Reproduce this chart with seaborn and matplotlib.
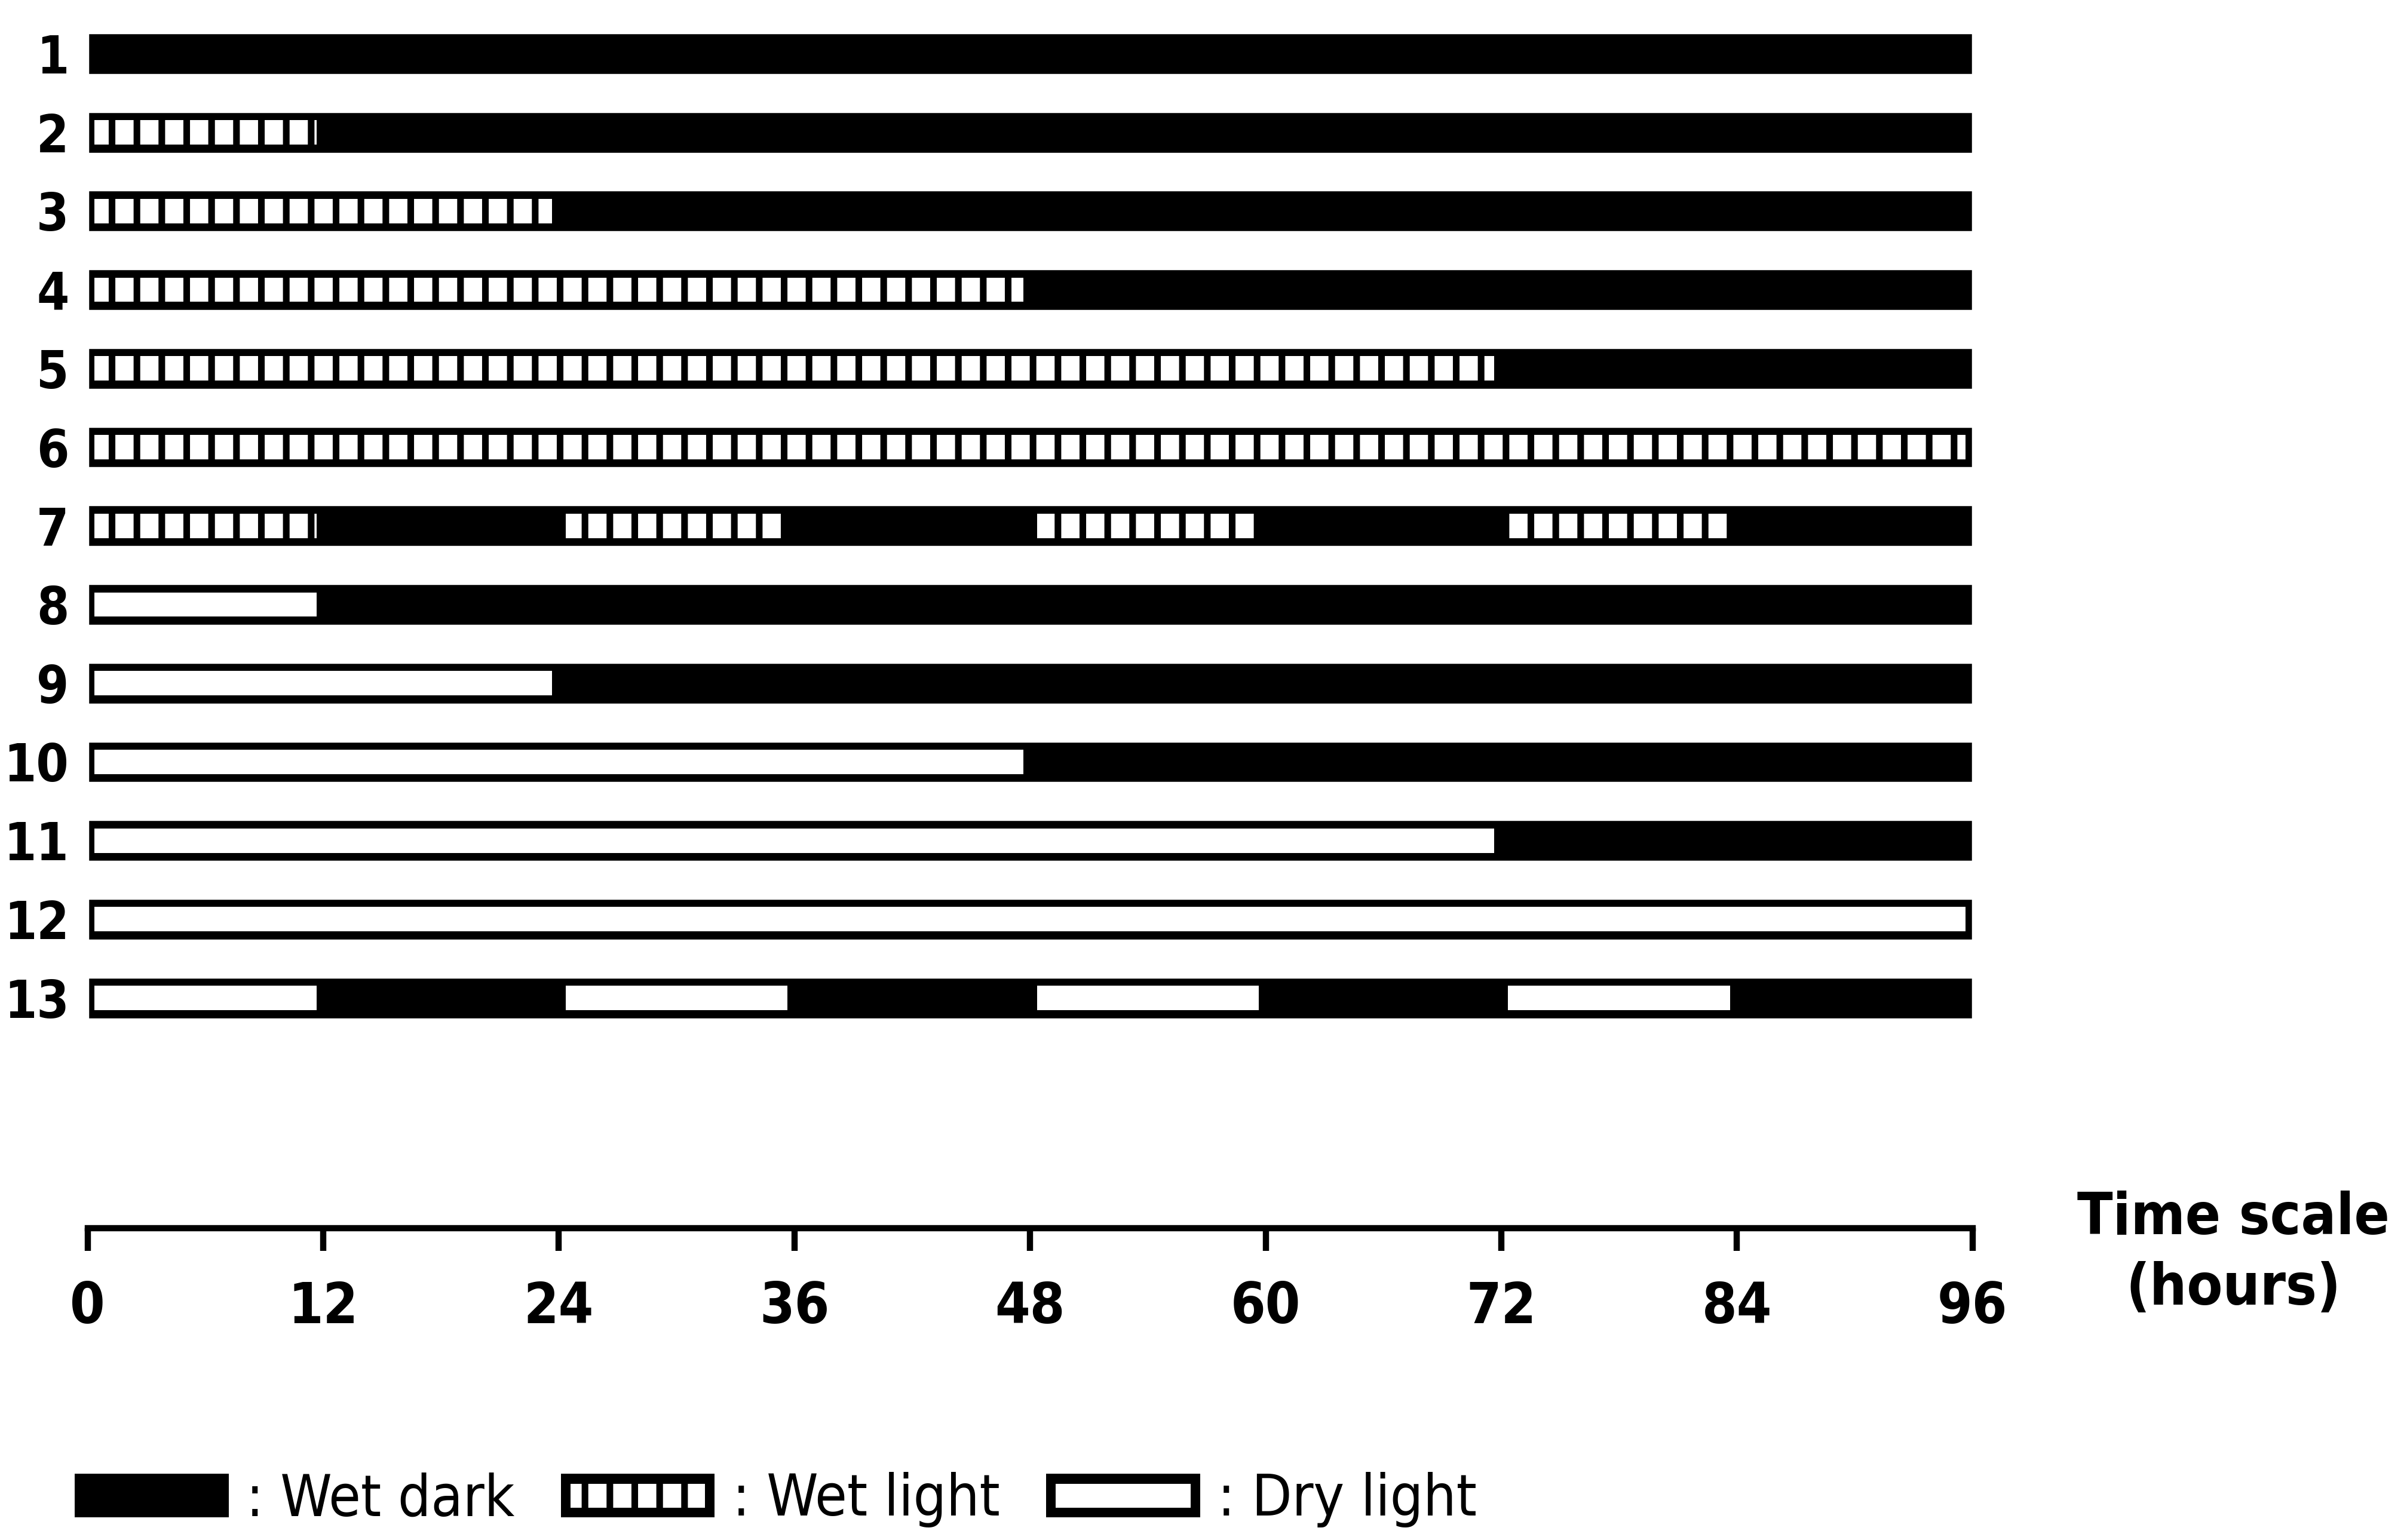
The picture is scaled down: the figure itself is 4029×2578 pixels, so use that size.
import matplotlib
matplotlib.use("Agg")
import matplotlib.pyplot as plt
import seaborn as sns
import pandas as pd
from matplotlib.patches import Patch, Rectangle
from matplotlib.legend_handler import HandlerBase

# treatments (rows) and the full run length in hours
rows = ["1", "2", "3", "4", "5", "6", "7", "8", "9", "10", "11", "12", "13"]
total_hours = [96] * 13

# light periods laid over the black (wet dark) bar
seg_row = ["2", "3", "4", "5", "6",
           "7", "7", "7", "7",
           "8", "9", "10", "11", "12",
           "13", "13", "13", "13"]
seg_start = [0, 0, 0, 0, 0,
             0, 24, 48, 72,
             0, 0, 0, 0, 0,
             0, 24, 48, 72]
seg_end = [12, 24, 48, 72, 96,
           12, 36, 60, 84,
           12, 24, 48, 72, 96,
           12, 36, 60, 84]
seg_kind = ["wet light"] * 9 + ["dry light"] * 9

time_ticks = [0, 12, 24, 36, 48, 60, 72, 84, 96]
legend_labels = [": Wet dark", ": Wet light", ": Dry light"]

sns.set_style("white")
plt.rcParams["font.family"] = ["DejaVu Sans"]
plt.rcParams["font.stretch"] = "condensed"
plt.rcParams["text.color"] = "black"
plt.rcParams["xtick.color"] = "black"
plt.rcParams["ytick.color"] = "black"
plt.rcParams["hatch.linewidth"] = 3.2
plt.rcParams["hatch.color"] = "black"

df = pd.DataFrame({"row": rows, "hours": total_hours})
segs = pd.DataFrame({"row": seg_row, "start": seg_start, "end": seg_end, "kind": seg_kind})

fig = plt.figure(figsize=(16.116, 10.312), dpi=250)
ax = fig.add_axes([0.0364, 0.3213, 0.7831, 0.6745])

# black base bars = wet dark
sns.barplot(data=df, x="hours", y="row", orient="h", color="black",
            saturation=1, width=0.53, ax=ax)

inset = 0.35
for _, s in segs.iterrows():
    yi = rows.index(s["row"])
    ax.barh(yi, s["end"] - s["start"] - 2 * inset, left=s["start"] + inset,
            height=0.31, color="white", edgecolor="black", linewidth=0,
            hatch="|" if s["kind"] == "wet light" else None)

ax.set_xlim(0, 96)
ax.set_ylim(12.6, -0.6)
ax.set_xlabel("")
ax.set_ylabel("")
ax.set_xticks([])
for sp in ax.spines.values():
    sp.set_visible(False)
ax.tick_params(axis="y", length=0, pad=9, labelsize=25)
for lab in ax.get_yticklabels():
    lab.set_fontweight("bold")

# separate time scale
tax = fig.add_axes([0.0364, 0.2024, 0.7831, 0.0001])
tax.set_xlim(0, 96)
tax.set_yticks([])
for k in ["top", "left", "right"]:
    tax.spines[k].set_visible(False)
tax.spines["bottom"].set_linewidth(3)
tax.spines["bottom"].set_color("black")
tax.set_xticks(time_ticks)
tax.set_xticklabels([str(t) for t in time_ticks])
tax.tick_params(axis="x", bottom=True, direction="out", length=11, width=3,
                pad=14, labelsize=27, color="black")
for lab in tax.get_xticklabels():
    lab.set_fontweight("bold")

fig.text(0.928, 0.186, "Time scale\n(hours)", ha="center", va="center",
         fontsize=28, fontweight="bold", linespacing=1.35)


class BarHandler(HandlerBase):
    def create_artists(self, legend, orig_handle, xdescent, ydescent,
                       width, height, fontsize, trans):
        x0, y0 = -xdescent, -ydescent
        arts = [Rectangle((x0, y0), width, height, facecolor="black",
                          edgecolor="none", transform=trans)]
        if orig_handle.get_label() != "dark":
            ih = height * 0.55
            pad = height * 0.22
            arts.append(Rectangle((x0 + pad, y0 + (height - ih) / 2), width - 2 * pad, ih,
                                  facecolor="white", edgecolor="black", linewidth=0,
                                  hatch=orig_handle.get_hatch(), transform=trans))
        return arts


handles = [Patch(label="dark"), Patch(label="wet", hatch="|"), Patch(label="dry")]
fig.legend(handles, legend_labels, handler_map={Patch: BarHandler()},
           loc="center left", bbox_to_anchor=(0.031, 0.026), ncol=3, frameon=False,
           fontsize=28, handlelength=2.65, handleheight=0.78, handletextpad=0.3,
           columnspacing=0.8, borderpad=0, borderaxespad=0)

fig.savefig("out.png", dpi=250, facecolor="white")
